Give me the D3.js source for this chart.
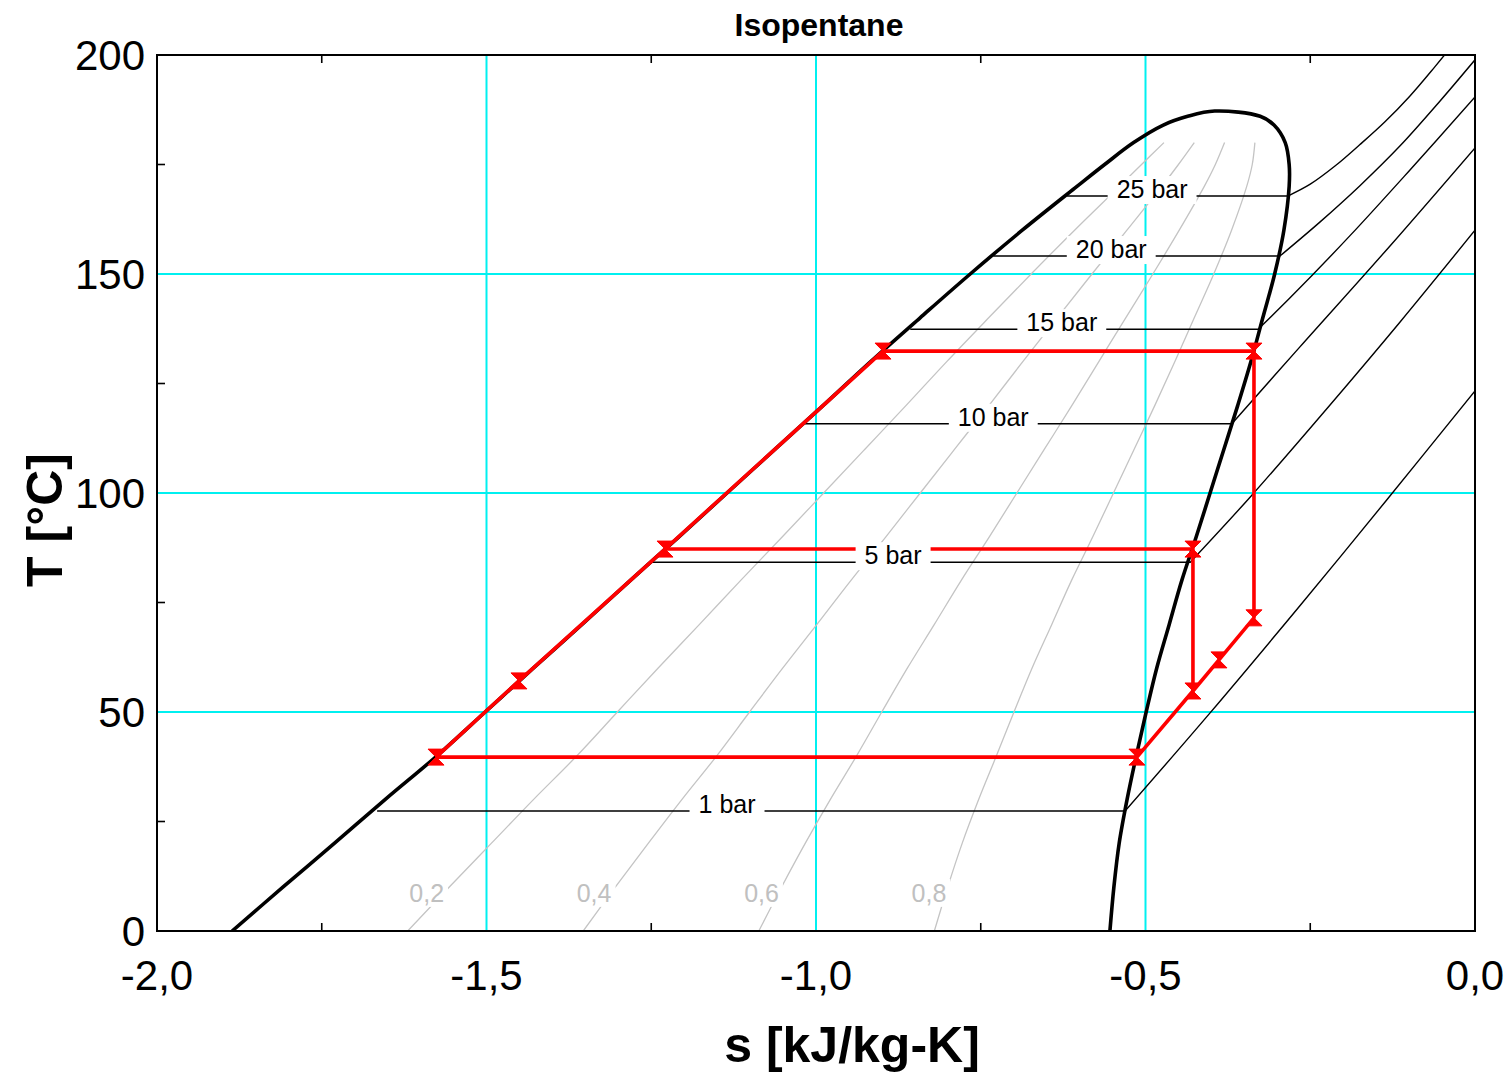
<!DOCTYPE html>
<html>
<head>
<meta charset="utf-8">
<script src="https://cdn.jsdelivr.net/npm/d3@7"></script>
<style>
  body { margin: 0; background: #fff; }
  svg { display: block; }
  text { font-family: "Liberation Sans", Arial, Helvetica, sans-serif; }
</style>
</head>
<body>
<svg id="chart" width="1506" height="1080"></svg>
<script>
// Saturation table for isopentane: temperature [°C], liquid / vapour entropy [kJ/kg-K]
const satT  = [0, 10, 20, 30, 40, 50, 60, 70, 80, 90, 100, 110, 120, 130, 140, 150, 160, 170, 175, 180, 184, 186];
const satSf = [-1.886, -1.809, -1.731, -1.654, -1.575, -1.502, -1.429, -1.355, -1.282, -1.208, -1.135, -1.062,
               -0.989, -0.917, -0.842, -0.766, -0.687, -0.604, -0.562, -0.518, -0.473, -0.436];
const satSg = [-0.554, -0.548, -0.540, -0.528, -0.514, -0.499, -0.483, -0.464, -0.445, -0.423, -0.402, -0.381,
               -0.360, -0.340, -0.322, -0.304, -0.290, -0.282, -0.282, -0.288, -0.305, -0.326];
const criticalPoint = [-0.395, 187.2];

// Lines of constant vapour quality
const qualityValues = [0.2, 0.4, 0.6, 0.8];
const qualityLabels = ["0,2", "0,4", "0,6", "0,8"];
const qualityTopT = 181;
const qualityLabelT = 8.7;

// Isobars: [s, T] from saturated liquid through saturated vapour into superheat
const isobarNames = ["1 bar", "5 bar", "10 bar", "15 bar", "20 bar", "25 bar"];
const isobar1  = [[-1.666, 27.4], [-0.531, 27.4], [-0.402, 49.8], [-0.266, 74.2], [-0.134, 98.4], [0, 123.3]];
const isobar5  = [[-1.249, 84.2], [-0.432, 84.2], [-0.341, 99.1], [-0.220, 120.1], [-0.114, 139.0], [0, 160.0]];
const isobar10 = [[-1.017, 115.8], [-0.369, 115.8], [-0.266, 133.3], [-0.129, 156.4], [0, 178.8]];
const isobar15 = [[-0.857, 137.4], [-0.329, 137.4], [-0.281, 144.5], [-0.190, 158.7], [-0.099, 173.7], [0, 190.4]];
const isobar20 = [[-0.731, 154.1], [-0.296, 154.1], [-0.235, 161.9], [-0.175, 170.1], [-0.114, 179.2],
                  [-0.053, 189.5], [0, 198.9]];
const isobar25 = [[-0.619, 167.8], [-0.284, 167.8], [-0.250, 170.5], [-0.212, 174.7], [-0.175, 179.5],
                  [-0.137, 184.7], [-0.099, 190.6], [-0.061, 197.3], [-0.023, 204.3]];
const isobarLabelS = [-1.135, -0.883, -0.731, -0.627, -0.552, -0.490];

// Cycle state points [s, T]
const cycleStates = [
  [-1.5766, 39.7],  // 0 condensate
  [-1.4507, 57.1],  // 1
  [-1.2291, 87.2],  // 2
  [-0.8983, 132.4], // 3
  [-0.3354, 132.4], // 4 HP saturated vapour
  [-0.3354, 71.5],  // 5 HP expansion end
  [-0.3885, 61.9],  // 6
  [-0.4280, 54.8],  // 7
  [-0.5130, 39.7],  // 8 condenser inlet (sat. vapour)
  [-0.4280, 87.2]   // 9 LP saturated vapour
];
const cycleSegments = [[0, 1, 2, 3, 4, 5, 6, 7, 8, 0], [2, 9, 7]];

// Axes
const xTicks = [-2, -1.5, -1, -0.5, 0];
const xTickLabels = ["-2,0", "-1,5", "-1,0", "-0,5", "0,0"];
const xMinorTicks = [-1.75, -1.25, -0.75, -0.25];
const yTicks = [0, 50, 100, 150, 200];
const yMinorTicks = [25, 75, 125, 175];
const xGrid = [-1.5, -1, -0.5];
const yGrid = [50, 100, 150];

const svg = d3.select("#chart");
const plot = { left: 157, right: 1475, top: 55, bottom: 931 };
const x = d3.scaleLinear().domain([-2, 0]).range([plot.left, plot.right]);
const y = d3.scaleLinear().domain([0, 200]).range([plot.bottom, plot.top]);

svg.append("defs").append("clipPath").attr("id", "plotClip")
  .append("rect").attr("x", plot.left).attr("y", plot.top)
  .attr("width", plot.right - plot.left).attr("height", plot.bottom - plot.top);

const line = d3.line().x(d => x(d[0])).y(d => y(d[1]));
const smooth = d3.line().x(d => x(d[0])).y(d => y(d[1])).curve(d3.curveCatmullRom.alpha(0.5));

// Grid
const grid = svg.append("g");
grid.selectAll(".gx").data(xGrid).join("line")
  .attr("x1", d => x(d)).attr("x2", d => x(d)).attr("y1", plot.top).attr("y2", plot.bottom)
  .attr("stroke", "#00f0f0").attr("stroke-width", 2);
grid.selectAll(".gy").data(yGrid).join("line")
  .attr("y1", d => y(d)).attr("y2", d => y(d)).attr("x1", plot.left).attr("x2", plot.right)
  .attr("stroke", "#00f0f0").attr("stroke-width", 2);

const body = svg.append("g").attr("clip-path", "url(#plotClip)");

// Quality lines
const satRows = satT.map((t, i) => ({ t, sf: satSf[i], sg: satSg[i] }));
const qualityRows = satRows.filter(r => r.t <= qualityTopT);
body.append("g").selectAll("path").data(qualityValues).join("path")
  .attr("d", q => smooth(qualityRows.map(r => [r.sf + q * (r.sg - r.sf), r.t])))
  .attr("fill", "none").attr("stroke", "#c4c4c4").attr("stroke-width", 1.3);

// Isobars
const isobars = [isobar1, isobar5, isobar10, isobar15, isobar20, isobar25];
body.append("g").selectAll("path").data(isobars).join("path")
  .attr("d", pts => line(pts.slice(0, 2)) + smooth(pts.slice(1)).replace(/^M/, "L"))
  .attr("fill", "none").attr("stroke", "#000").attr("stroke-width", 1.4);

// Saturation dome
const domePts = satRows.map(r => [r.sf, r.t])
  .concat([criticalPoint])
  .concat(satRows.slice().reverse().map(r => [r.sg, r.t]));
body.append("path").attr("d", smooth(domePts))
  .attr("fill", "none").attr("stroke", "#000").attr("stroke-width", 3.6)
  .attr("stroke-linejoin", "round");

// Cycle
body.append("g").selectAll("path").data(cycleSegments).join("path")
  .attr("d", seg => line(seg.map(i => cycleStates[i])))
  .attr("fill", "none").attr("stroke", "#ff0000").attr("stroke-width", 3.6)
  .attr("stroke-linejoin", "round");
const hourglass = "M-8,-8L8,-8L0,0L8,8L-8,8L0,0Z";
body.append("g").selectAll("path").data(cycleStates).join("path")
  .attr("transform", d => `translate(${x(d[0])},${y(d[1])})`)
  .attr("d", hourglass).attr("fill", "#ff0000").attr("stroke", "#ff0000").attr("stroke-width", 1);

// Isobar labels with white backing
const isoLabels = body.append("g");
isobarNames.forEach((name, i) => {
  const tSat = isobars[i][0][1];
  const cx = x(isobarLabelS[i]);
  const cy = y(tSat) - 7;
  const g = isoLabels.append("g");
  const bg = g.append("rect").attr("fill", "#fff");
  const t = g.append("text").attr("x", cx).attr("y", cy).attr("dy", "0.36em")
    .attr("text-anchor", "middle").attr("font-size", 25).attr("fill", "#000").text(name);
  const bb = t.node().getBBox();
  bg.attr("x", bb.x - 9).attr("width", bb.width + 18).attr("y", cy - 13).attr("height", 28);
});

// Quality labels
const qLabels = body.append("g");
const r0 = satRows[0], r1 = satRows[1];
const f = (qualityLabelT - r0.t) / (r1.t - r0.t);
qualityValues.forEach((q, i) => {
  const sA = r0.sf + q * (r0.sg - r0.sf), sB = r1.sf + q * (r1.sg - r1.sf);
  const cx = x(sA + f * (sB - sA)) - 17;
  const cy = y(qualityLabelT);
  const g = qLabels.append("g");
  const bg = g.append("rect").attr("fill", "#fff");
  const t = g.append("text").attr("x", cx).attr("y", cy).attr("dy", "0.36em")
    .attr("text-anchor", "middle").attr("font-size", 25).attr("fill", "#c0c0c0").text(qualityLabels[i]);
  const bb = t.node().getBBox();
  bg.attr("x", bb.x - 4).attr("width", bb.width + 8).attr("y", cy - 14).attr("height", 28);
});

// Frame and ticks
svg.append("rect").attr("x", plot.left).attr("y", plot.top)
  .attr("width", plot.right - plot.left).attr("height", plot.bottom - plot.top)
  .attr("fill", "none").attr("stroke", "#000").attr("stroke-width", 2);
const ticks = svg.append("g").attr("stroke", "#000").attr("stroke-width", 1.6);
xMinorTicks.forEach(v => {
  ticks.append("line").attr("x1", x(v)).attr("x2", x(v)).attr("y1", plot.bottom).attr("y2", plot.bottom - 8);
  ticks.append("line").attr("x1", x(v)).attr("x2", x(v)).attr("y1", plot.top).attr("y2", plot.top + 8);
});
yMinorTicks.forEach(v => {
  ticks.append("line").attr("y1", y(v)).attr("y2", y(v)).attr("x1", plot.left).attr("x2", plot.left + 8);
});

// Tick labels
svg.append("g").selectAll("text").data(xTicks).join("text")
  .attr("x", d => x(d)).attr("y", 990).attr("text-anchor", "middle")
  .attr("font-size", 42).attr("fill", "#000").text((d, i) => xTickLabels[i]);
svg.append("g").selectAll("text").data(yTicks).join("text")
  .attr("x", 145).attr("y", d => y(d)).attr("dy", "0.36em").attr("text-anchor", "end")
  .attr("font-size", 42).attr("fill", "#000").text(d => d);

// Titles
svg.append("text").attr("x", 819).attr("y", 36).attr("text-anchor", "middle")
  .attr("font-size", 32).attr("font-weight", "bold").text("Isopentane");
svg.append("text").attr("x", 852).attr("y", 1062).attr("text-anchor", "middle")
  .attr("font-size", 50).attr("font-weight", "bold").text("s [kJ/kg-K]");
svg.append("text").attr("transform", "translate(62,520) rotate(-90)").attr("text-anchor", "middle")
  .attr("font-size", 50).attr("font-weight", "bold").text("T [°C]");
</script>
</body>
</html>
